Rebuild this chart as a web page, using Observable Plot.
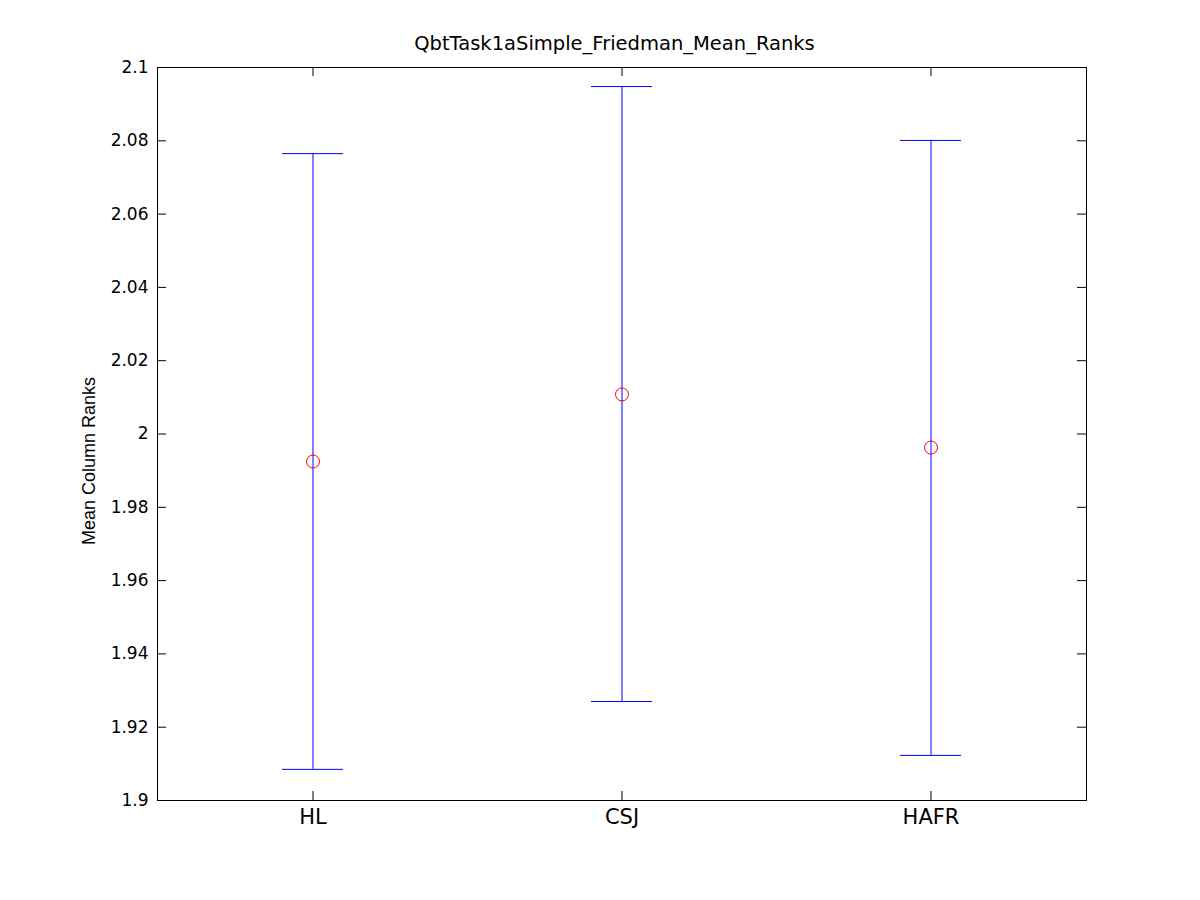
<!DOCTYPE html>
<html><head><meta charset="utf-8">
<script src="https://cdn.jsdelivr.net/npm/d3@7"></script>
<script src="https://cdn.jsdelivr.net/npm/@observablehq/plot@0.6"></script>
<style>
body{margin:0;background:#fff;}
#wrap{position:relative;width:1200px;height:900px;font-family:"DejaVu Sans",sans-serif;background:#fff;}
#title{position:absolute;left:150px;width:929px;top:34px;text-align:center;font-size:19.5px;line-height:19.5px;color:#000;}
#chart{position:absolute;left:0;top:0;}
</style></head><body>
<div id="wrap"><div id="chart"></div><div id="title">QbtTask1aSimple_Friedman_Mean_Ranks</div></div>
<script>
const groups = ["HL", "CSJ", "HAFR"];
const meanRanks = [1.9925, 2.0108, 1.9963];
const lowerBounds = [1.9085, 1.9270, 1.9123];
const upperBounds = [2.0765, 2.0948, 2.0801];
const yTicks = [1.9, 1.92, 1.94, 1.96, 1.98, 2, 2.02, 2.04, 2.06, 2.08, 2.1];
const yLabel = "Mean Column Ranks";

const data = groups.map((g, i) => ({group: g, mean: meanRanks[i], lo: lowerBounds[i], hi: upperBounds[i]}));
const font = "'DejaVu Sans', sans-serif";
const plot = Plot.plot({
  width: 1200, height: 900,
  marginLeft: 157, marginRight: 114, marginTop: 67, marginBottom: 100,
  style: {fontFamily: font, fontSize: "17px", background: "white", color: "black", overflow: "visible"},
  x: {type: "band", domain: groups, padding: 0},
  y: {domain: [1.9, 2.1]},
  marks: [
    Plot.ruleX(data, {x: "group", y1: "lo", y2: "hi", stroke: "#0000ff", strokeWidth: 1}),
    Plot.tickY(data, {x: "group", y: "lo", stroke: "#0000ff", insetLeft: 124, insetRight: 124}),
    Plot.tickY(data, {x: "group", y: "hi", stroke: "#0000ff", insetLeft: 124, insetRight: 124}),
    Plot.dot(data, {x: "group", y: "mean", r: 6.5, stroke: "#ff0000", fill: "none", strokeWidth: 1}),
    Plot.tickY(yTicks, {y: d => d, stroke: "black", insetRight: 920}),
    Plot.tickY(yTicks, {y: d => d, stroke: "black", insetLeft: 920}),
    Plot.tickX(groups, {x: d => d, stroke: "black", insetBottom: 724}),
    Plot.tickX(groups, {x: d => d, stroke: "black", insetTop: 724}),
    Plot.axisY({ticks: yTicks, tickSize: 0, tickPadding: 9, tickFormat: d => String(d), label: null, fontSize: 17}),
    Plot.axisX({tickSize: 0, tickPadding: 9, label: null, fontSize: 21}),
    Plot.text([yLabel], {text: d => d, frameAnchor: "left", dx: -68, dy: 27, rotate: -90, textAnchor: "middle", lineAnchor: "middle", fontSize: 18, fontFamily: "'Liberation Sans', Arial, sans-serif", fill: "black"}),
    Plot.frame({stroke: "black", strokeWidth: 1})
  ]
});
document.getElementById("chart").appendChild(plot);
</script>
</body></html>
